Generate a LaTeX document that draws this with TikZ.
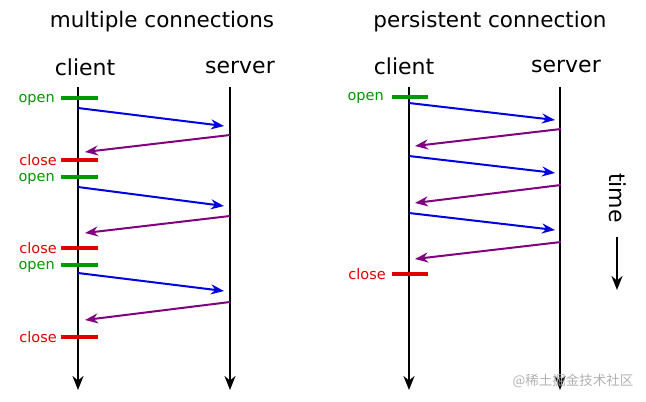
\documentclass[tikz,border=0pt]{standalone}
\usepackage{fontspec}
\setmainfont{DejaVu Sans}
\newfontfamily\cjk{Noto Sans CJK SC}
\usetikzlibrary{arrows.meta}
\definecolor{cblue}{HTML}{0000E0}
\definecolor{cpurple}{HTML}{800080}
\definecolor{cgreen}{HTML}{009900}
\definecolor{cred}{HTML}{E00000}
\begin{document}
\begin{tikzpicture}[x=1pt,y=-1pt,
  axis/.style={line width=2.4pt,-{Stealth[length=14pt,width=11pt]}},
  req/.style={cblue,line width=2pt,-{Stealth[length=13pt,width=10pt]}},
  resp/.style={cpurple,line width=2pt,-{Stealth[length=13pt,width=10pt]}},
  openm/.style={cgreen,line width=4pt},
  closem/.style={cred,line width=4pt},
  title/.style={font=\fontsize{21.5}{25}\selectfont},
  head/.style={font=\fontsize{22}{26}\selectfont},
  lab/.style={font=\fontsize{14.5}{17}\selectfont,anchor=base east,inner sep=0pt}]
\useasboundingbox (0,0) rectangle (646,402);
% left
\node[title] (t1) at (162,22) {multiple connections};
\node[head] (c1) at (85,67) {client};
\node[head] (s1) at (240,67) {server};
\coordinate (c1a) at (78,87); \coordinate (c1b) at (78,390);
\coordinate (s1a) at (230,87); \coordinate (s1b) at (230,390);
\draw[axis] (c1a) -- (c1b);
\draw[axis] (s1a) -- (s1b);
\foreach \y in {98,160,177,248,265,337}{
  \coordinate (m\y a) at (61,\y); \coordinate (m\y b) at (98,\y);
}
\draw[openm] (m98a) -- (m98b);  \node[lab,cgreen] (lo1) at (55,102) {open};
\draw[closem] (m160a) -- (m160b); \node[lab,cred] (lc1) at (57,165) {close};
\draw[openm] (m177a) -- (m177b);  \node[lab,cgreen] (lo2) at (55,181) {open};
\draw[closem] (m248a) -- (m248b); \node[lab,cred] (lc2) at (57,253) {close};
\draw[openm] (m265a) -- (m265b);  \node[lab,cgreen] (lo3) at (55,269) {open};
\draw[closem] (m337a) -- (m337b); \node[lab,cred] (lc3) at (57,342) {close};
\foreach \a/\b/\c/\d [count=\i] in {108/126/135/152,187/206/216/233,273/291/302/320}{
  \coordinate (qa\i) at (78,\a); \coordinate (qb\i) at (224,\b);
  \coordinate (ra\i) at (230,\c); \coordinate (rb\i) at (85,\d);
  \draw[req] (qa\i) -- (qb\i);
  \draw[resp] (ra\i) -- (rb\i);
}
% right
\node[title] (t2) at (490,22) {persistent connection};
\node[head] (c2) at (404,66) {client};
\node[head] (s2) at (566,66) {server};
\coordinate (c2a) at (409,87); \coordinate (c2b) at (409,390);
\coordinate (s2a) at (560,87); \coordinate (s2b) at (560,390);
\draw[axis] (c2a) -- (c2b);
\draw[axis] (s2a) -- (s2b);
\coordinate (po1) at (392,97); \coordinate (po2) at (428,97);
\draw[openm] (po1) -- (po2); \node[lab,cgreen] (lo4) at (384,100) {open};
\coordinate (pc1) at (392,274); \coordinate (pc2) at (428,274);
\draw[closem] (pc1) -- (pc2); \node[lab,cred] (lc4) at (386,279) {close};
\foreach \a/\b/\c/\d [count=\i] in {103/120/129/146,156/173/185/203,213/230/242/259}{
  \coordinate (pqa\i) at (409,\a); \coordinate (pqb\i) at (555,\b);
  \coordinate (pra\i) at (561,\c); \coordinate (prb\i) at (415,\d);
  \draw[req] (pqa\i) -- (pqb\i);
  \draw[resp] (pra\i) -- (prb\i);
}
\node[head,rotate=-90] (tm) at (618,198) {time};
\coordinate (ta) at (617,237); \coordinate (tb) at (617,290);
\draw[axis] (ta) -- (tb);
\node[font=\cjk\fontsize{13.5}{15}\selectfont,text=black!30] (wm) at (573,381) {@稀土掘金技术社区};
\end{tikzpicture}
\end{document}
